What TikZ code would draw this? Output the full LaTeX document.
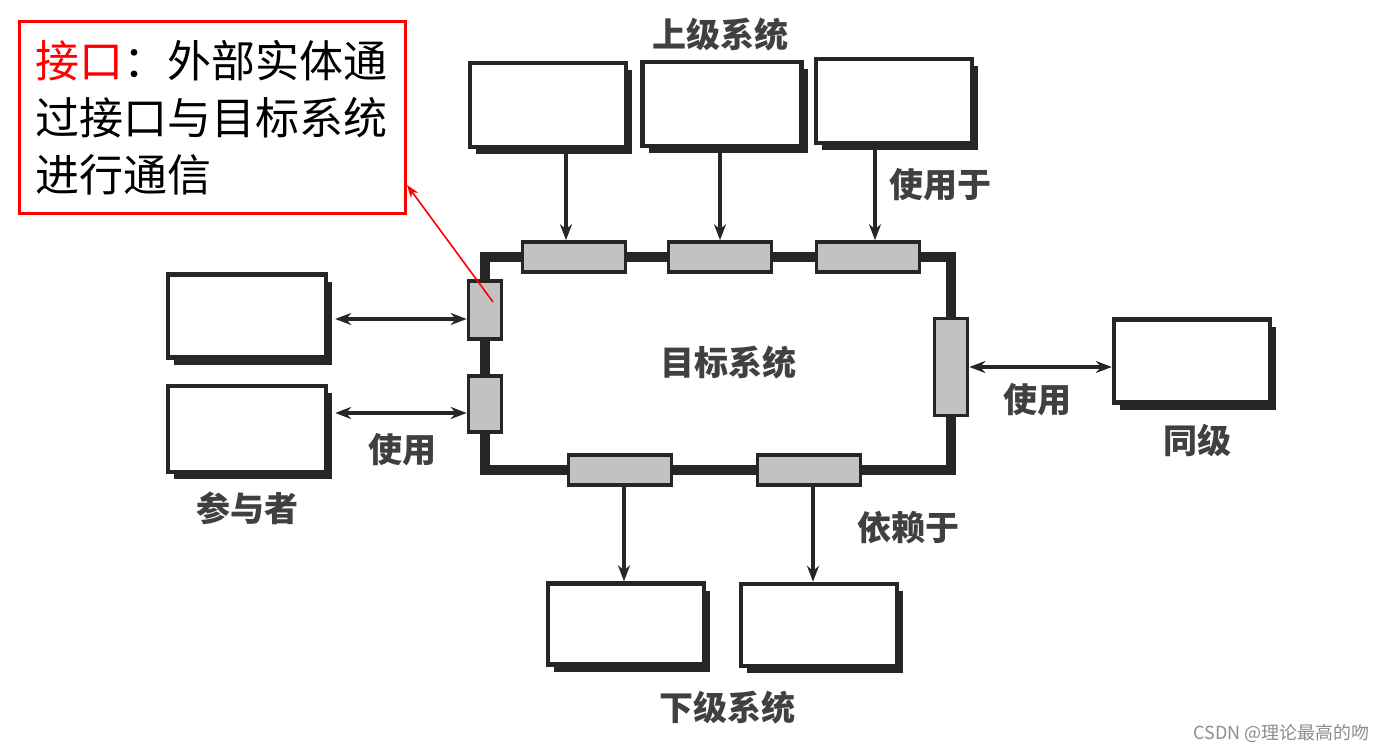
\documentclass[tikz,border=0pt]{standalone}
\usepackage{fontspec}
\setmainfont{Noto Sans CJK SC}
\usetikzlibrary{arrows.meta,shadows,backgrounds}

\begin{document}
\begin{tikzpicture}[
    x=1pt,y=-1pt,>={Stealth[length=16pt,width=12pt]},
    font=\fontsize{34}{40}\selectfont,
    system/.style={draw=black!85,line width=4.4pt,fill=white,inner sep=0pt,
      minimum width=156pt,minimum height=84pt,
      drop shadow={shadow xshift=6pt,shadow yshift=-7pt,opacity=1,fill=black!85}},
    port/.style={draw=black!85,line width=3.6pt,fill=black!24,inner sep=0pt,
      minimum width=103pt,minimum height=30pt},
    vport/.style={port,minimum width=33pt},
    bus/.style={black!85,line width=9.5pt,line join=miter},
    flow/.style={->,black!85,line width=3.6pt},
    mutual/.style={<->,black!85,line width=3.4pt},
    tag/.style={text=black!75,font=\fontsize{34}{40}\selectfont\bfseries}
  ]
    \useasboundingbox (0,0) rectangle (1388,751);

    % Interfaces sit on the boundary of the target system.
    \node[port] (pu1) at (574,257) {};
    \node[port] (pu2) at (720,257) {};
    \node[port] (pu3) at (868,257) {};
    \node[vport,minimum height=58pt] (pl1) at (485,310) {};
    \node[vport,minimum height=56pt] (pl2) at (485,404) {};
    \node[vport,minimum height=97pt] (pr) at (951,367) {};
    \node[port] (pd1) at (620,470) {};
    \node[port] (pd2) at (809,470) {};

    % The boundary runs behind every interface.
    \begin{scope}[on background layer]
      \draw[bus] (pu1.center) -| (pl1.center) -- (pl2.center) |- (pd1.center)
        -- (pd2.center) -| (pr.center) |- (pu3.center) -- cycle;
    \end{scope}

    % External entities around the target system.
    \node[system] (upper1) at (548,105) {};
    \node[system,minimum width=159pt] (upper2) at (722,104) {};
    \node[system] (upper3) at (894,101) {};
    \node[system,minimum width=158pt,minimum height=83pt] (actor1) at (247,316) {};
    \node[system,minimum width=158pt,minimum height=86pt] (actor2) at (247,429) {};
    \node[system,minimum height=83pt] (peer) at (1192,361) {};
    \node[system,minimum height=81pt] (lower1) at (626,624) {};
    \node[system,minimum height=82pt] (lower2) at (819,625) {};

    % Connectors.
    \draw[flow] ([xshift=18pt]upper1.south) -- ([xshift=18pt]upper1.south |- pu1.north);
    \draw[flow] (upper2.south -| pu2.north) -- (pu2.north);
    \draw[flow] ([xshift=7pt]upper3.south -| pu3.north) -- ([xshift=7pt]pu3.north);
    \draw[flow] ([xshift=4pt]pd1.south) -- ([xshift=4pt]pd1.south |- lower1.north);
    \draw[flow] ([xshift=4pt]pd2.south) -- ([xshift=4pt]pd2.south |- lower2.north);
    \draw[mutual] ([shift={(7pt,-3pt)}]actor1.east) -- ([yshift=-3pt]actor1.east -| pl1.west);
    \draw[mutual] ([shift={(7pt,16pt)}]actor2.east) -- ([yshift=16pt]actor2.east -| pl2.west);
    \draw[mutual] (pr.east) -- (pr.east -| peer.west);

    % Labels.
    \node[tag] (uppertag) at (720,35) {上级系统};
    \node[tag] (usedtag) at (940,185) {使用于};
    \node[tag] (targettag) at (728,363) {目标系统};
    \node[tag] (usetag) at (402,450) {使用};
    \node[tag] (actortag) at (247,508) {参与者};
    \node[tag] (peerusetag) at (1037,400) {使用};
    \node[tag] (peertag) at (1197,440) {同级};
    \node[tag] (dependtag) at (908,528) {依赖于};
    \node[tag] (lowertag) at (727,708) {下级系统};

    % Callout for the interface.
    \node[draw=red,line width=3pt,anchor=north west,inner xsep=16pt,
      minimum width=386pt,minimum height=192pt,text width=354pt,align=left,
      font=\fontsize{44}{57}\selectfont] (note) at (18,20)
      {\textcolor{red}{接口}：外部实体通\\过接口与目标系统\\进行通信};
    \draw[->,red,line width=1.6pt,>={Stealth[length=13pt,width=9pt]}]
      ([shift={(8pt,8pt)}]pl1.center) -- ([yshift=30pt]note.south east);

    \node[anchor=east,text=black!45,font=\fontsize{18}{20}\selectfont] (mark)
      at (1373,733) {CSDN @理论最高的吻};
\end{tikzpicture}
\end{document}
